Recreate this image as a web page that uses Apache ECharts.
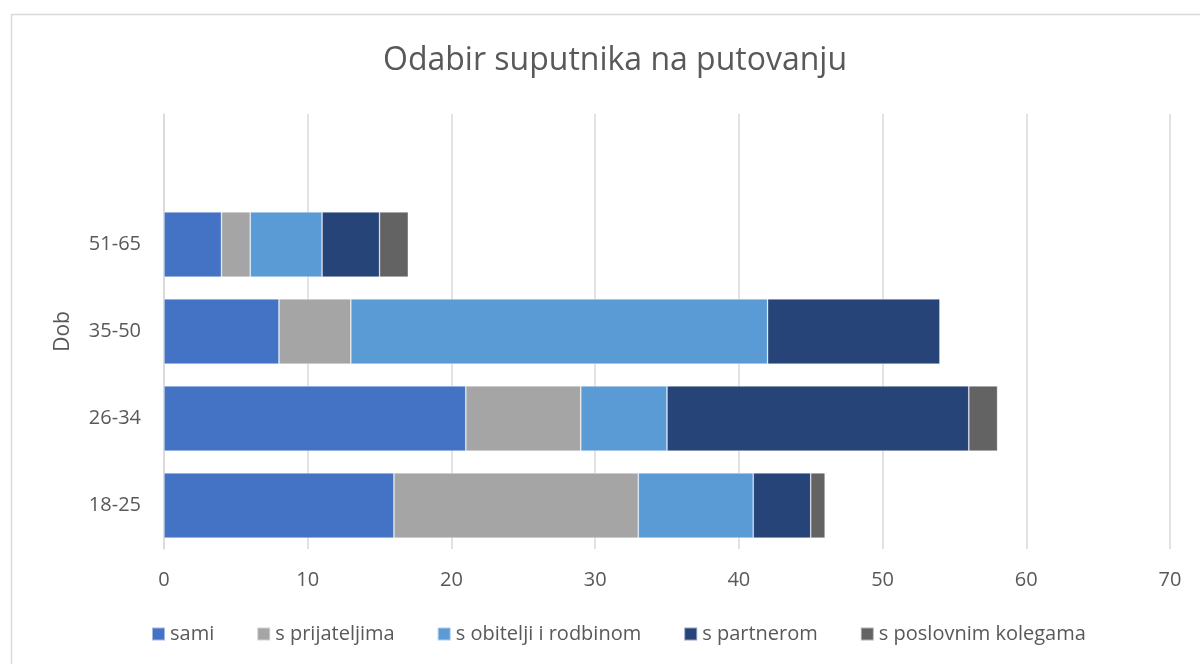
<!DOCTYPE html>
<html>
<head>
<meta charset="utf-8">
<script src="https://cdn.jsdelivr.net/npm/echarts@6/dist/echarts.min.js"></script>
<style>html,body{margin:0;padding:0;background:#fff}#c{width:1200px;height:664px}</style>
</head>
<body>
<div id="c"></div>
<script>
const categories = ['18-25', '26-34', '35-50', '51-65', ''];
const sami = [16, 21, 8, 4, null];
const prijateljima = [17, 8, 5, 2, null];
const obitelji = [8, 6, 29, 5, null];
const partnerom = [4, 21, 12, 4, null];
const poslovnim = [1, 2, 0, 2, null];
const seriesNames = ['sami', 's prijateljima', 's obitelji i rodbinom', 's partnerom', 's poslovnim kolegama'];
const colors = ['#4472C4', '#A5A5A5', '#5B9BD5', '#264478', '#636363'];
const xTicks = [0, 10, 20, 30, 40, 50, 60, 70];

const font = '"Open Sans", "Noto Sans", sans-serif';
const data = [sami, prijateljima, obitelji, partnerom, poslovnim];
const chart = echarts.init(document.getElementById('c'), null, {renderer: 'canvas'});
chart.setOption({
  animation: false,
  color: colors,
  graphic: [{
    type: 'rect', shape: {x: 11.5, y: 14.5, width: 1300, height: 800},
    style: {fill: 'none', stroke: '#d9d9d9', lineWidth: 1.5}, silent: true, z: -10
  }],
  title: {
    text: 'Odabir suputnika na putovanju', left: 378, top: 40,
    textStyle: {fontFamily: font, fontSize: 32, fontWeight: 'normal', color: '#595959'}
  },
  legend: {
    bottom: 15, left: 146, itemWidth: 13, itemHeight: 13, itemGap: 42,
    icon: 'rect',
    textStyle: {fontFamily: font, fontSize: 20, color: '#595959'},
    data: seriesNames
  },
  grid: {left: 164, right: 30, top: 114, bottom: 115, containLabel: false},
  xAxis: {
    type: 'value', min: xTicks[0], max: xTicks[xTicks.length - 1], interval: 10,
    axisLine: {show: false}, axisTick: {show: false},
    splitLine: {lineStyle: {color: '#d9d9d9', width: 1.5}},
    axisLabel: {fontFamily: font, fontSize: 20, color: '#595959', margin: 21}
  },
  yAxis: {
    type: 'category', data: categories,
    name: 'Dob', nameLocation: 'middle', nameGap: 90, nameRotate: 90,
    nameTextStyle: {fontFamily: font, fontSize: 21, color: '#595959'},
    axisLine: {show: true, lineStyle: {color: '#d9d9d9', width: 1.5}},
    axisTick: {show: false},
    axisLabel: {fontFamily: font, fontSize: 20, color: '#595959', margin: 23}
  },
  series: seriesNames.map((n, i) => ({
    name: n, type: 'bar', stack: 'total', data: data[i],
    barCategoryGap: '25%',
    itemStyle: {color: colors[i], borderColor: 'rgba(255,255,255,0.5)', borderWidth: 0.7}
  }))
});
</script>
</body>
</html>
